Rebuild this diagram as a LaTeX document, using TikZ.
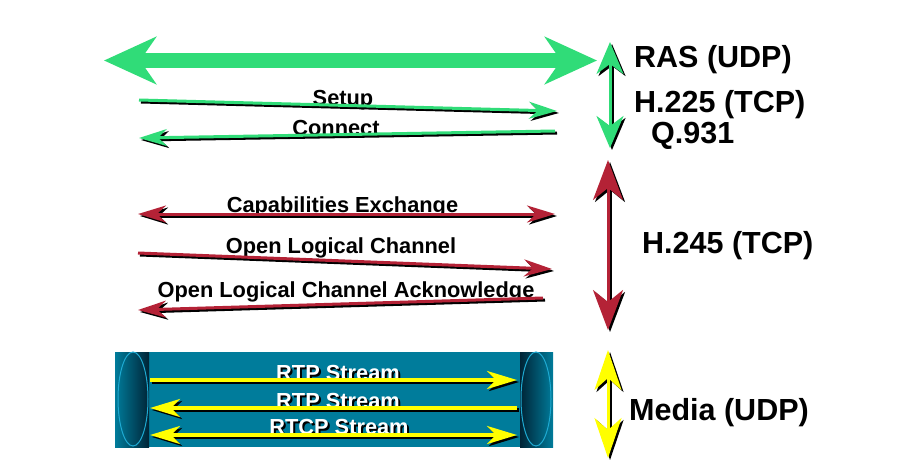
\documentclass[tikz,border=0pt]{standalone}
\usepackage{fontspec}
\setmainfont{Liberation Sans}
\usetikzlibrary{arrows.meta}
\definecolor{grn}{RGB}{48,220,120}
\definecolor{rd}{RGB}{180,34,54}
\definecolor{yl}{RGB}{255,255,0}
\definecolor{tealmain}{RGB}{0,124,155}
\definecolor{tealdark}{RGB}{0,36,54}
\definecolor{ellline}{RGB}{30,170,210}
\newcommand\shadowline[3]{%
  \draw[#1,color=black] ([shift={(2,2)}]#2) -- ([shift={(2,2)}]#3);
  \draw[#1] (#2) -- (#3);}
\newcommand\shadowtext[1]{\makebox[0pt][l]{\hspace{2pt}\raisebox{-2pt}{\color{black}#1}}\color{white}#1}
\tikzset{
  thintip/.tip={Stealth[length=28pt,width=17pt,inset=9pt]},
  medtip/.tip={Stealth[length=30pt,width=18pt,inset=9pt]},
  bigtip/.tip={Stealth[length=52pt,width=47pt,inset=16pt]},
  gvtip/.tip={Stealth[length=32pt,width=27pt,inset=10pt]},
  rvtip/.tip={Stealth[length=40pt,width=30pt,inset=12pt]},
  yvtip/.tip={Stealth[length=40pt,width=27pt,inset=12pt]},
  thinarr/.style={line width=3pt},
  medarr/.style={line width=4pt},
  lbl/.style={font=\fontsize{21.8}{24}\selectfont\bfseries, inner sep=0pt, anchor=base},
  biglbl/.style={font=\fontsize{30.5}{34}\selectfont\bfseries, inner sep=0pt, anchor=base west},
}
\begin{document}
\begin{tikzpicture}[x=1pt,y=-1pt]
\useasboundingbox (0,0) rectangle (911,475);
% coordinates
\coordinate (bigL) at (104,60.5);
\coordinate (bigR) at (597,60.5);
\coordinate (setupA) at (139,100);
\coordinate (setupB) at (557,111);
\coordinate (connA) at (555,131);
\coordinate (connB) at (139,138);
\coordinate (gvT) at (610,42);
\coordinate (gvB) at (610,148);
\coordinate (capA) at (138,214);
\coordinate (capB) at (555,214);
\coordinate (olcA) at (138,253);
\coordinate (olcB) at (552,269);
\coordinate (ackA) at (543,298);
\coordinate (ackB) at (138,310);
\coordinate (rvT) at (608,160);
\coordinate (rvB) at (608,330);
\coordinate (m1A) at (150,380);
\coordinate (m1B) at (517,380);
\coordinate (m2A) at (517,408);
\coordinate (m2B) at (150,408);
\coordinate (m3A) at (150,435);
\coordinate (m3B) at (517,435);
\coordinate (yvT) at (608,350);
\coordinate (yvB) at (608,458);

% big green arrow
\draw[grn, line width=15pt, {bigtip}-{bigtip}] (bigL) -- (bigR);

% green section labels
\node[lbl] (tsetup) at (343,105) {Setup};
\node[lbl] (tconn) at (336,135) {Connect};
\shadowline{grn,thinarr,-{thintip}}{setupA}{setupB}
\shadowline{grn,thinarr,-{thintip}}{connA}{connB}
\shadowline{grn,thinarr,{gvtip}-{gvtip}}{gvT}{gvB}
\node[biglbl] (ras) at (634,67) {RAS (UDP)};
\node[biglbl] (h225) at (634,112) {H.225 (TCP)};
\node[biglbl] (q931) at (651,143) {Q.931};

% red section
\node[lbl] (tcap) at (342.5,212) {Capabilities Exchange};
\node[lbl] (tolc) at (341,253) {Open Logical Channel};
\node[lbl] (tack) at (346,297) {Open Logical Channel Acknowledge};
\shadowline{rd,thinarr,{thintip}-{thintip}}{capA}{capB}
\shadowline{rd,thinarr,-{thintip}}{olcA}{olcB}
\shadowline{rd,thinarr,-{thintip}}{ackA}{ackB}
\shadowline{rd,thinarr,{rvtip}-{rvtip}}{rvT}{rvB}
\node[biglbl] (h245) at (642,253) {H.245 (TCP)};

% media pipe
\fill[tealmain] (115,352) rectangle (553,447);
\shade[left color=tealmain, right color=tealdark] (115,352) rectangle (149,447);
\shade[left color=tealdark, right color=tealmain] (520,352) rectangle (553,447);
\draw[ellline, line width=1pt] (133,399) ellipse [x radius=15, y radius=47];
\draw[ellline, line width=1pt] (536,399) ellipse [x radius=15, y radius=47];

\node[lbl] (r1) at (338,380) {\shadowtext{RTP Stream}};
\node[lbl] (r2) at (338,408) {\shadowtext{RTP Stream}};
\node[lbl] (r3) at (339,434) {\shadowtext{RTCP Stream}};
\shadowline{yl,medarr,-{medtip}}{m1A}{m1B}
\shadowline{yl,medarr,-{medtip}}{m2A}{m2B}
\shadowline{yl,medarr,{medtip}-{medtip}}{m3A}{m3B}
\shadowline{yl,thinarr,{yvtip}-{yvtip}}{yvT}{yvB}
\node[biglbl] (media) at (629,420) {Media (UDP)};
\end{tikzpicture}
\end{document}
